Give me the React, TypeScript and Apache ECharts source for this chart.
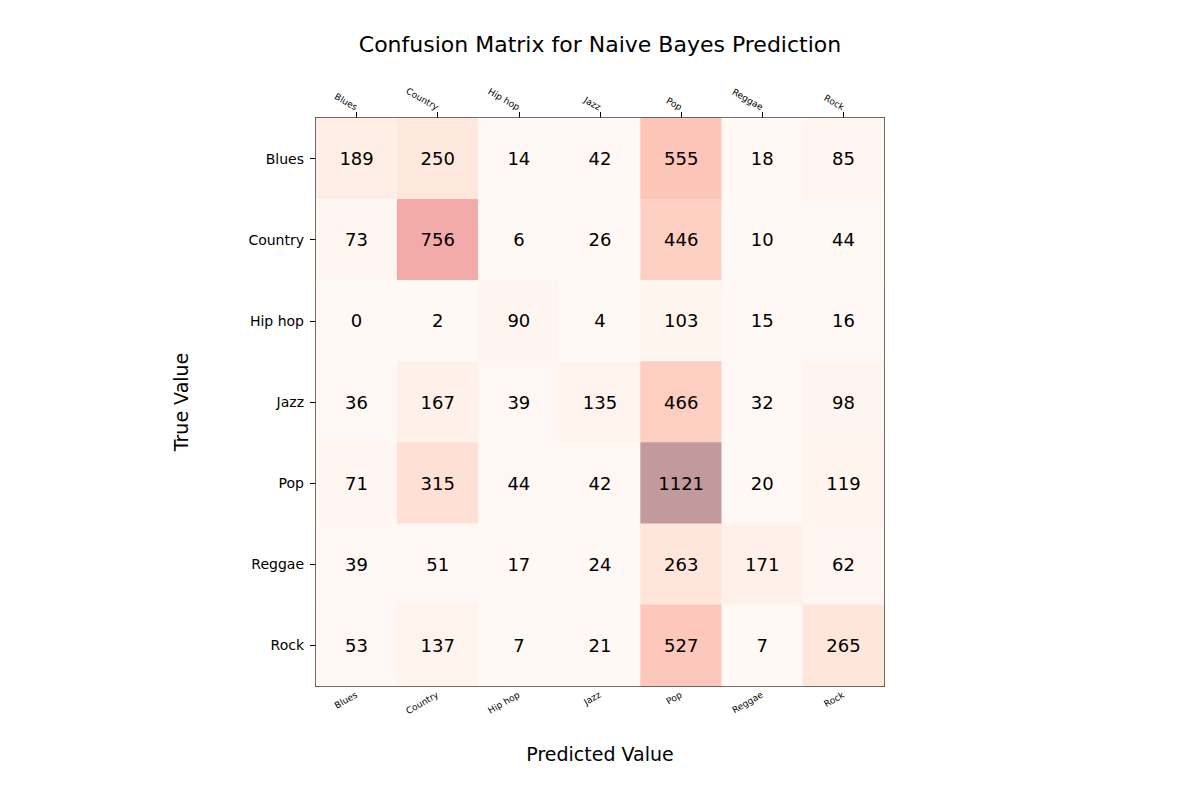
import React, { useEffect, useRef } from 'react';
import * as echarts from 'echarts';

const genres = ['Blues', 'Country', 'Hip hop', 'Jazz', 'Pop', 'Reggae', 'Rock'];
// rows = true value, columns = predicted value
const matrix = [
  [189, 250, 14, 42, 555, 18, 85],
  [73, 756, 6, 26, 446, 10, 44],
  [0, 2, 90, 4, 103, 15, 16],
  [36, 167, 39, 135, 466, 32, 98],
  [71, 315, 44, 42, 1121, 20, 119],
  [39, 51, 17, 24, 263, 171, 62],
  [53, 137, 7, 21, 527, 7, 265],
];
// matplotlib Reds at alpha 0.4 over white
const redsFaded = ['#fff9f6', '#fff3ed', '#fee4d9', '#fed3c7', '#fdc3b7', '#f9b1ab', '#eaa3a5', '#db9fa1', '#c29a9e'];

const App: React.FC = () => {
  const chartRef = useRef<HTMLDivElement>(null);

  useEffect(() => {
    if (!chartRef.current) return;
    const chart = echarts.init(chartRef.current, undefined, { renderer: 'svg' });
    const data: number[][] = [];
    matrix.forEach((row, r) => row.forEach((v, c) => data.push([c, r, v])));
    const font = 'DejaVu Sans';
    const smallLabels = { fontSize: 9, rotate: 30, color: '#000', fontFamily: font, margin: 8 };
    const frame = { lineStyle: { color: '#000', width: 1.5 } };
    chart.setOption({
      animation: false,
      textStyle: { fontFamily: font },
      title: {
        text: 'Confusion Matrix for Naive Bayes Prediction',
        left: 'center',
        top: 28,
        textStyle: { fontSize: 22, fontWeight: 'normal', color: '#000', fontFamily: font },
      },
      grid: { left: 316, top: 118, width: 568, height: 568 },
      xAxis: [
        {
          type: 'category',
          data: genres,
          position: 'bottom',
          name: 'Predicted Value',
          nameLocation: 'middle',
          nameGap: 58,
          nameTextStyle: { fontSize: 19, color: '#000', fontFamily: font },
          axisLine: frame,
          axisTick: { show: false },
          axisLabel: smallLabels,
          splitLine: { show: false },
        },
        {
          type: 'category',
          data: genres,
          position: 'top',
          axisLine: frame,
          axisTick: { show: true, alignWithLabel: true, length: 6, lineStyle: { color: '#000' } },
          axisLabel: { ...smallLabels, margin: 10 },
        },
      ],
      yAxis: [
        {
          type: 'category',
          data: genres,
          inverse: true,
          name: 'True Value',
          nameLocation: 'middle',
          nameGap: 126,
          nameTextStyle: { fontSize: 19, color: '#000', fontFamily: font },
          axisLine: frame,
          axisTick: { show: true, alignWithLabel: true, length: 6, lineStyle: { color: '#000' } },
          axisLabel: { fontSize: 14, color: '#000', fontFamily: font, margin: 12 },
        },
        {
          type: 'category',
          data: genres,
          inverse: true,
          position: 'right',
          axisLine: frame,
          axisTick: { show: false },
          axisLabel: { show: false },
        },
      ],
      visualMap: {
        show: false,
        min: 0,
        max: 1121,
        dimension: 2,
        inRange: { color: redsFaded },
      },
      series: [
        {
          type: 'heatmap',
          data,
          label: { show: true, fontSize: 18, color: '#000', fontFamily: font },
          itemStyle: { borderWidth: 0 },
        },
      ],
    });
    return () => { chart.dispose(); };
  }, []);

  return <div ref={chartRef} style={{ position: 'absolute', left: 0, top: 0, width: 1200, height: 800 }} />;
};

export default App;
